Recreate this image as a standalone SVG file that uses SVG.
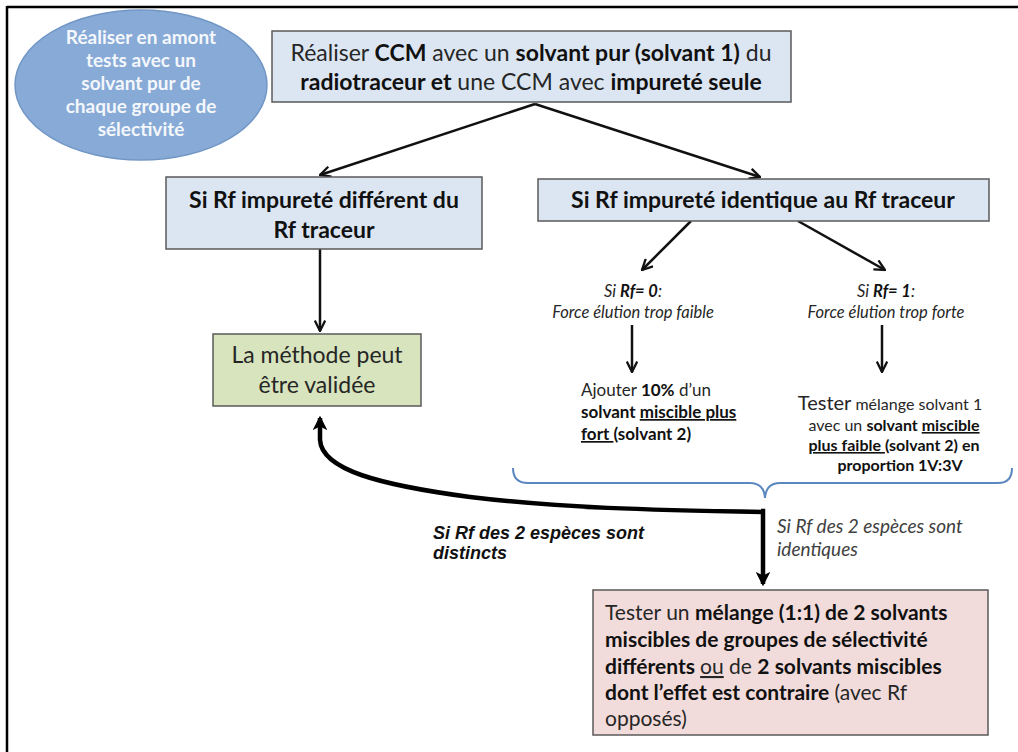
<svg xmlns="http://www.w3.org/2000/svg" width="1018" height="752" viewBox="0 0 1018 752">
<defs>
<style>
.t{font-family:Lato,"Open Sans","Liberation Sans",sans-serif;fill:#262626}
.b{font-weight:bold;fill:#111}
.i{font-style:italic}
.u{text-decoration:underline}
.box{stroke:#5a5a5a;stroke-width:1.5}
.blue{fill:#dce6f2}
.conn{stroke:#111;stroke-width:2.5;fill:none}
.thick{stroke:#000;stroke-width:4.5;fill:none}
.w{fill:#f4f7fb}
</style>
<marker id="ah" viewBox="0 0 12 12" refX="11" refY="6" markerWidth="5" markerHeight="5" orient="auto" markerUnits="strokeWidth">
<path d="M1,1 L11,6 L1,11" fill="none" stroke="#111" stroke-width="2.2"/>
</marker>
<marker id="ah2" viewBox="0 0 12 12" refX="10" refY="6" markerWidth="3.2" markerHeight="3.2" orient="auto" markerUnits="strokeWidth">
<path d="M0,0 L12,6 L0,12 L3,6 Z" fill="#000"/>
</marker>
</defs>
<rect width="1018" height="752" fill="#fff"/>
<g id="frame">
<line x1="7" y1="7" x2="1018" y2="7" stroke="#000" stroke-width="2.5"/>
<line x1="7" y1="6" x2="7" y2="752" stroke="#000" stroke-width="2.5"/>
</g>
<g id="connectors">
<path class="conn" d="M535,104 L320,175" marker-end="url(#ah)"/>
<path class="conn" d="M535,104 L760,177" marker-end="url(#ah)"/>
<path class="conn" d="M320,249 L320,331" marker-end="url(#ah)"/>
<path class="conn" d="M691,221 L642,270" marker-end="url(#ah)"/>
<path class="conn" d="M798,221 L885,270" marker-end="url(#ah)"/>
<path class="conn" d="M632,325 L632,372" marker-end="url(#ah)"/>
<path class="conn" d="M882,325 L882,372" marker-end="url(#ah)"/>
<path class="thick" d="M763,512 C650,510 560,508 470,497 C380,485 322,470 320,440 L320,418" marker-end="url(#ah2)"/>
<path class="thick" d="M761,511 L763,511 L763,584" marker-end="url(#ah2)"/>
<path d="M513,468 Q513,483 528,483 L750,483 Q764,483 765,498 Q766,483 780,483 L998,483 Q1012,483 1012,468" fill="none" stroke="#5b87c0" stroke-width="2"/>
</g>
<g id="ellipse">
<ellipse cx="141" cy="85" rx="126" ry="75" fill="#87aad6" stroke="#7196c6" stroke-width="1.5"/>
<g class="t" font-size="19" font-weight="bold" text-anchor="middle">
<text class="w" x="141" y="44">Réaliser en amont</text>
<text class="w" x="141" y="67">tests avec un</text>
<text class="w" x="141" y="90">solvant pur de</text>
<text class="w" x="141" y="113">chaque groupe de</text>
<text class="w" x="141" y="136">sélectivité</text>
</g>
</g>
<g id="top">
<rect class="box blue" x="272" y="31" width="519" height="71"/>
<text class="t" x="531" y="61" font-size="23" text-anchor="middle">Réaliser <tspan class="b">CCM</tspan> avec un <tspan class="b">solvant pur (solvant 1)</tspan> du</text>
<text class="t" x="531" y="90" font-size="23" text-anchor="middle"><tspan class="b">radiotraceur et</tspan> une CCM avec <tspan class="b">impureté seule</tspan></text>
</g>
<g id="left">
<rect class="box blue" x="166" y="177" width="316" height="72"/>
<text class="t b" x="324" y="208" font-size="23" text-anchor="middle">Si Rf impureté différent du</text>
<text class="t b" x="324" y="238" font-size="23" text-anchor="middle">Rf traceur</text>
</g>
<g id="right">
<rect class="box blue" x="538" y="179" width="451" height="42"/>
<text class="t b" x="763" y="208" font-size="23" text-anchor="middle">Si Rf impureté identique au Rf traceur</text>
</g>
<g id="valid">
<rect class="box" x="213" y="334" width="208" height="72" fill="#d7e4bd"/>
<text class="t" x="317" y="363" font-size="23" text-anchor="middle">La méthode peut</text>
<text class="t" x="317" y="393" font-size="23" text-anchor="middle">être validée</text>
</g>
<g id="rf0">
<text class="t i" x="633" y="297" font-size="16.5" text-anchor="middle">Si <tspan class="b">Rf= 0</tspan>:</text>
<text class="t i" x="633" y="318" font-size="16.5" text-anchor="middle">Force élution trop faible</text>
</g>
<g id="rf1">
<text class="t i" x="886" y="297" font-size="16.5" text-anchor="middle">Si <tspan class="b">Rf= 1</tspan>:</text>
<text class="t i" x="886" y="318" font-size="16.5" text-anchor="middle">Force élution trop forte</text>
</g>
<g id="ajouter">
<text class="t" x="581" y="396" font-size="17">Ajouter <tspan class="b">10%</tspan> d’un</text>
<text class="t b" x="581" y="418" font-size="17">solvant  <tspan class="u">miscible plus</tspan></text>
<text class="t b" x="581" y="440" font-size="17"><tspan class="u">fort </tspan>(solvant 2)</text>
</g>
<g id="tester">
<text class="t" x="890" y="410" font-size="16" text-anchor="middle"><tspan font-size="20">Tester</tspan> mélange solvant 1</text>
<text class="t" x="894" y="431" font-size="16" text-anchor="middle">avec un <tspan class="b">solvant <tspan class="u">miscible</tspan></tspan></text>
<text class="t b" x="894" y="451" font-size="16" text-anchor="middle"><tspan class="u">plus faible </tspan>(solvant 2) en</text>
<text class="t b" x="900" y="471" font-size="16" text-anchor="middle">proportion 1V:3V</text>
</g>
<g id="labels">
<text font-family="'Liberation Sans',Arial,sans-serif" font-size="18" font-weight="bold" font-style="italic" fill="#111" x="433" y="539">Si Rf des 2 espèces sont</text>
<text font-family="'Liberation Sans',Arial,sans-serif" font-size="18" font-weight="bold" font-style="italic" fill="#111" x="433" y="559">distincts</text>
<text class="t i" x="777" y="533" font-size="19" style="fill:#404040">Si Rf des 2 espèces sont</text>
<text class="t i" x="777" y="556" font-size="19" style="fill:#404040">identiques</text>
</g>
<g id="pink">
<rect class="box" x="593" y="590" width="395" height="145" fill="#f2dcdb"/>
<text class="t" x="605" y="620" font-size="21">Tester un <tspan class="b">mélange (1:1) de 2 solvants</tspan></text>
<text class="t b" x="605" y="647" font-size="21">miscibles de groupes de sélectivité</text>
<text class="t" x="605" y="674" font-size="21"><tspan class="b">différents </tspan><tspan class="u">ou</tspan> de <tspan class="b">2 solvants miscibles</tspan></text>
<text class="t" x="605" y="700" font-size="21"><tspan class="b">dont l’effet est contraire</tspan> (avec Rf</text>
<text class="t" x="605" y="726" font-size="21">opposés)</text>
</g>
</svg>
